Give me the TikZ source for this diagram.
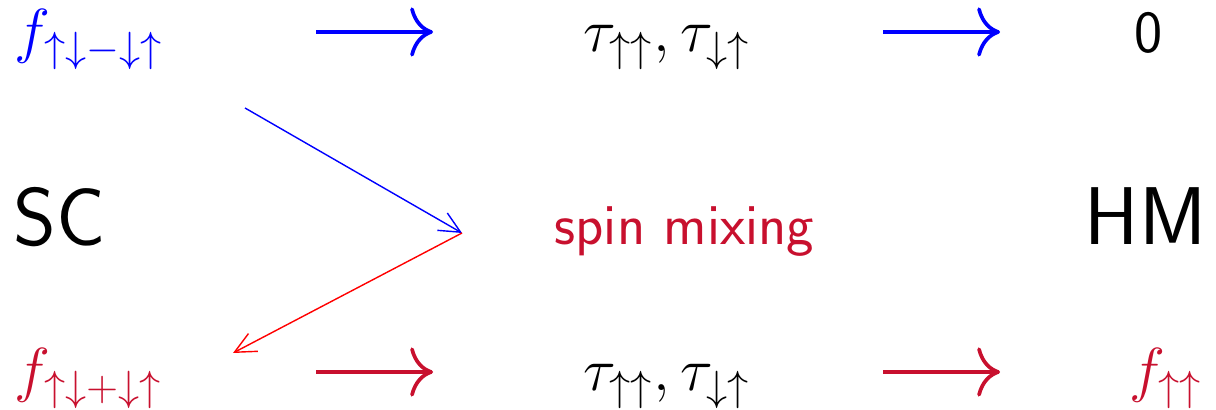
\documentclass[tikz,border=0pt]{standalone}
\usetikzlibrary{arrows.meta,calc}
\definecolor{crim}{RGB}{200,16,46}
\begin{document}
\begin{tikzpicture}[x=0.01cm,y=-0.01cm,
  lab/.style={inner sep=0pt, font=\fontsize{17}{20}\selectfont},
  big/.style={inner sep=0pt, font=\sffamily\fontsize{23.3}{28}\selectfont},
  bigarr/.style={line width=1.05pt, -{Computer Modern Rightarrow[length=6.5pt,width=14pt]}},
  thinarr/.style={line width=0.4pt, -{Straight Barb[length=6pt,width=5.7pt]}}]
\useasboundingbox (0,0) rectangle (1216,410);
% top row
\node[lab, anchor=base west, text=blue] (f1) at (14,52) {$f_{\uparrow\downarrow-\downarrow\uparrow}$};
\node[lab, anchor=base west] (t1) at (583,52) {$\tau_{\uparrow\uparrow},\tau_{\downarrow\uparrow}$};
\node[lab, anchor=base west, font=\sffamily\fontsize{17}{20}\selectfont] (z) at (1134,53) {0};
% middle row
\node[big, anchor=base west] (sc) at (13,246) {SC};
\node[lab, anchor=base west, text=crim, font=\sffamily\fontsize{16.6}{20}\selectfont] (mix) at (554,245) {spin mixing};
\node[big, anchor=base east] (hm) at (1207,245) {HM};
% bottom row
\node[lab, anchor=base west, text=crim] (f2) at (14,391) {$f_{\uparrow\downarrow+\downarrow\uparrow}$};
\node[lab, anchor=base west] (t2) at (583,391) {$\tau_{\uparrow\uparrow},\tau_{\downarrow\uparrow}$};
\node[lab, anchor=base east, text=crim] (f3) at (1203,391) {$f_{\uparrow\uparrow}$};
% row levels
\coordinate (row1) at (0,32);
\coordinate (row3) at (0,372);
% horizontal arrows
\draw[bigarr, blue] ($(t1.west |- row1)+(-267,0)$) -- ($(t1.west |- row1)+(-150,0)$);
\draw[bigarr, blue] ($(z.west |- row1)+(-251,0)$) -- ($(z.west |- row1)+(-134,0)$);
\draw[bigarr, crim] ($(t2.west |- row3)+(-267,0)$) -- ($(t2.west |- row3)+(-150,0)$);
\draw[bigarr, crim] ($(t2.west |- row3)+(300,0)$) -- ($(t2.west |- row3)+(417,0)$);
% diagonal arrows
\coordinate (b0) at (245,108);
\coordinate (apex) at (462,233);
\coordinate (r1) at (233,353);
\draw[thinarr, blue] (b0) -- (apex);
\draw[thinarr, red] (apex) -- (r1);
\end{tikzpicture}
\end{document}
